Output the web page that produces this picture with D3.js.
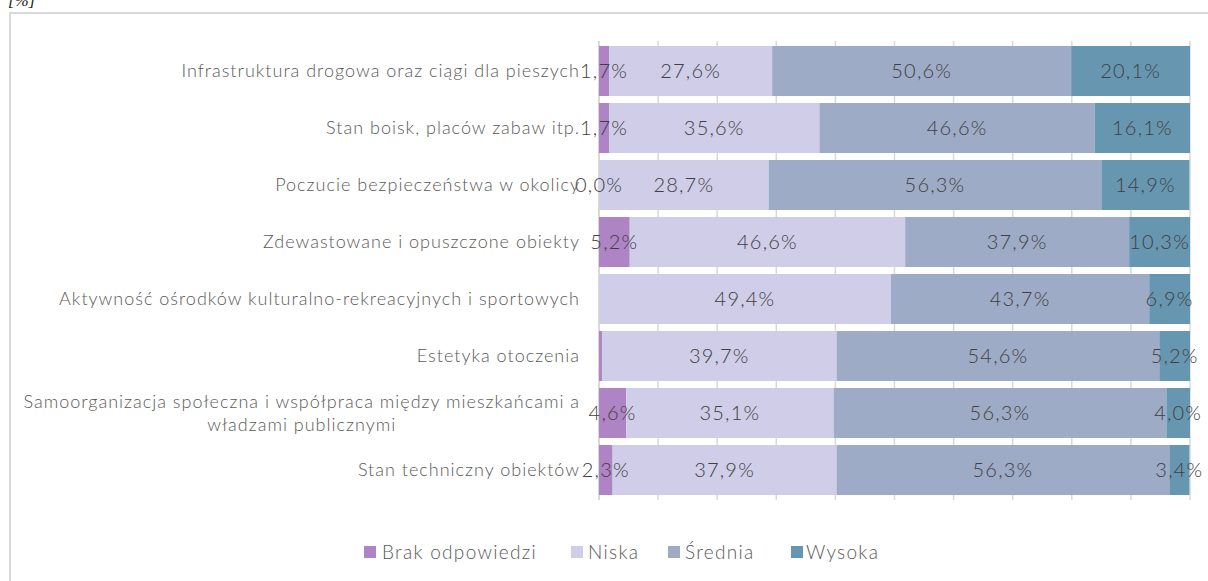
<!DOCTYPE html>
<html>
<head>
<meta charset="utf-8">
<script src="https://cdn.jsdelivr.net/npm/d3@7"></script>
<style>
  body { margin: 0; background: #fff; }
  svg { display: block; }
</style>
</head>
<body>
<div id="chart"></div>
<script>
const categories = [
  "Infrastruktura drogowa oraz ciągi dla pieszych",
  "Stan boisk, placów zabaw itp.",
  "Poczucie bezpieczeństwa w okolicy",
  "Zdewastowane i opuszczone obiekty",
  "Aktywność ośrodków kulturalno-rekreacyjnych i sportowych",
  "Estetyka otoczenia",
  "Samoorganizacja społeczna i współpraca między mieszkańcami a|władzami publicznymi",
  "Stan techniczny obiektów"
];
const seriesNames = ["Brak odpowiedzi", "Niska", "Średnia", "Wysoka"];
const brak    = [1.7, 1.7, 0.0, 5.2, 0.0, 0.5, 4.6, 2.3];
const niska   = [27.6, 35.6, 28.7, 46.6, 49.4, 39.7, 35.1, 37.9];
const srednia = [50.6, 46.6, 56.3, 37.9, 43.7, 54.6, 56.3, 56.3];
const wysoka  = [20.1, 16.1, 14.9, 10.3, 6.9, 5.2, 4.0, 3.4];
// brak labels that the original shows (none on rows 5 and 6)
const brakShown = [true, true, true, true, false, false, true, true];
const colors = ["#ae84c4", "#cfcde8", "#9eabc6", "#6797b0"];
const xTicks = [0, 10, 20, 30, 40, 50, 60, 70, 80, 90, 100];

const width = 1208, height = 581;
const font = "Lato, 'Open Sans', sans-serif";

const svg = d3.select("#chart").append("svg")
  .attr("width", width)
  .attr("height", height);

// frame
svg.append("path")
  .attr("d", "M10,581 L10,13 L1208,13")
  .attr("fill", "none")
  .attr("stroke", "#d9d9d9")
  .attr("stroke-width", 2);

svg.append("text")
  .attr("x", 8).attr("y", 6)
  .attr("font-family", "'Liberation Serif', serif")
  .attr("font-style", "italic")
  .attr("font-size", 17)
  .attr("fill", "#222")
  .text("[%]");

const x = d3.scaleLinear().domain([0, 100]).range([599, 1190]);
const y = d3.scaleBand().domain(d3.range(categories.length)).range([41, 500])
  .paddingInner(0.123).paddingOuter(0.088);

// gridlines
svg.append("g")
  .selectAll("line")
  .data(xTicks)
  .join("line")
  .attr("x1", d => x(d)).attr("x2", d => x(d))
  .attr("y1", 41).attr("y2", 500)
  .attr("stroke", "#d9d9d9")
  .attr("stroke-width", d => d === 0 ? 2 : 1.5);

const table = categories.map((c, i) => ({i, vals: [brak[i], niska[i], srednia[i], wysoka[i]]}));
const stack = d3.stack().keys([0, 1, 2, 3]).value((d, k) => d.vals[k]);
const series = stack(table);

svg.append("g")
  .selectAll("g")
  .data(series)
  .join("g")
  .attr("fill", (d, k) => colors[k])
  .selectAll("rect")
  .data(d => d)
  .join("rect")
  .attr("x", d => x(d[0]))
  .attr("y", d => y(d.data.i))
  .attr("width", d => x(d[1]) - x(d[0]))
  .attr("height", y.bandwidth());

// value labels, on top of all bars
const fmt = v => v.toFixed(1).replace(".", ",") + "%";
const labelData = series.flatMap((s, k) => s.map(p => ({x0: p[0], x1: p[1], i: p.data.i, k})))
  .filter(d => !(d.k === 0 && !brakShown[d.i]));

svg.append("g")
  .attr("font-family", font)
  .attr("font-weight", 300)
  .attr("font-size", 20)
  .attr("letter-spacing", 1.2)
  .attr("fill", "#404040")
  .selectAll("text")
  .data(labelData)
  .join("text")
  .attr("x", d => (x(d.x0) + x(d.x1)) / 2)
  .attr("y", d => y(d.i) + y.bandwidth() / 2)
  .attr("dy", "0.36em")
  .attr("text-anchor", "middle")
  .text(d => fmt(d.x1 - d.x0));

// category labels
const catG = svg.append("g")
  .attr("font-family", font)
  .attr("font-weight", 300)
  .attr("font-size", 18)
  .attr("letter-spacing", 1.0)
  .attr("fill", "#595959");

categories.forEach((c, i) => {
  const lines = c.split("|");
  const cy = y(i) + y.bandwidth() / 2;
  if (lines.length === 1) {
    catG.append("text")
      .attr("x", 580).attr("y", cy).attr("dy", "0.36em")
      .attr("text-anchor", "end")
      .text(c);
  } else {
    const t1 = catG.append("text")
      .attr("x", 580).attr("y", cy - 11).attr("dy", "0.36em")
      .attr("text-anchor", "end")
      .text(lines[0]);
    const w = t1.node().getComputedTextLength();
    catG.append("text")
      .attr("x", 580 - w / 2).attr("y", cy + 12).attr("dy", "0.36em")
      .attr("text-anchor", "middle")
      .text(lines[1]);
  }
});

// legend
const legendX = [364, 571, 668, 791];
const legendTextX = [382, 588, 685, 806];
const leg = svg.append("g")
  .attr("font-family", font)
  .attr("font-weight", 300)
  .attr("font-size", 19)
  .attr("letter-spacing", 1.3)
  .attr("fill", "#595959");
seriesNames.forEach((s, k) => {
  leg.append("rect")
    .attr("x", legendX[k]).attr("y", 546)
    .attr("width", 12).attr("height", 12)
    .attr("fill", colors[k]);
  leg.append("text")
    .attr("x", legendTextX[k]).attr("y", 552).attr("dy", "0.36em")
    .text(s);
});
</script>
</body>
</html>
